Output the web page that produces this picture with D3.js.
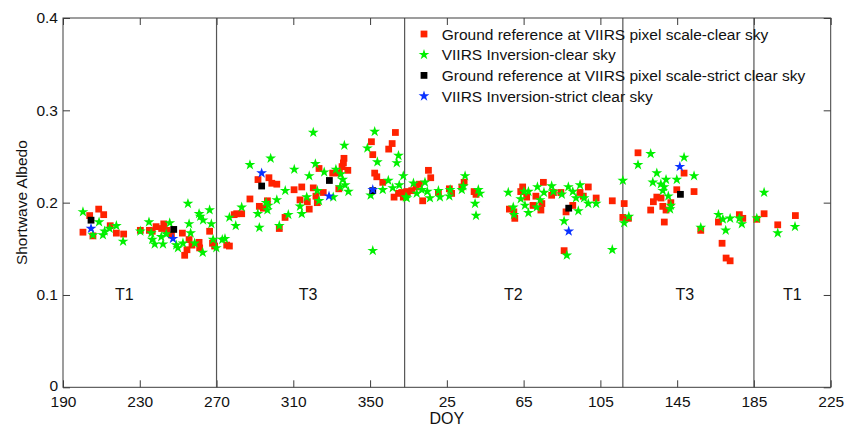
<!DOCTYPE html>
<html>
<head>
<meta charset="utf-8">
<script src="https://cdn.jsdelivr.net/npm/d3@7"></script>
<style>
  html, body { margin: 0; padding: 0; background: #fff; }
  svg { display: block; font-family: "Liberation Sans", Arial, sans-serif; }
</style>
</head>
<body>
<svg id="chart" width="850" height="430"></svg>
<script>
// Day of year runs on across the new year: values above 365 belong to the next year.
const xTickValues = [190, 230, 270, 310, 350, 390, 430, 470, 510, 550, 590];
const xTickLabels = ["190", "230", "270", "310", "350", "25", "65", "105", "145", "185", "225"];
const yTickValues = [0, 0.1, 0.2, 0.3, 0.4];

// Season boundaries and season names
const boundaries = [270, 368, 481.7, 550];
const seasonLabels = [
  { name: "T1", doy: 222 },
  { name: "T3", doy: 317.7 },
  { name: "T2", doy: 424.6 },
  { name: "T3", doy: 514 },
  { name: "T1", doy: 570 }
];

// [DOY, albedo]: ground reference at VIIRS pixel scale, clear sky
const groundClear = [
  [208.6,0.193],[203.9,0.186],[211.2,0.187],[200.4,0.168],[205.6,0.164],[214.6,0.175],[217.8,0.167],
  [221.6,0.166],[230.3,0.170],[235.0,0.170],[236.5,0.169],[238.5,0.174],[242.5,0.177],[241.4,0.172],
  [244.2,0.170],[246.5,0.165],[252.2,0.167],[255.7,0.160],[257.2,0.154],[253.4,0.143],[260.9,0.157],
  [261.2,0.151],[266.4,0.169],[267.9,0.156],[269.0,0.153],[254.6,0.149],
  [275.3,0.154],[276.7,0.153],[279.2,0.187],[280.5,0.188],[283.1,0.188],[287.4,0.204],[292.3,0.196],
  [294.4,0.194],[296.5,0.202],[291.6,0.225],[297.3,0.227],[298.8,0.221],[301.4,0.220],[302.7,0.172],
  [305.7,0.184],[310.4,0.214],[314.4,0.217],[313.5,0.203],[317.3,0.201],[318.3,0.193],[320.4,0.216],
  [321.8,0.207],[322.5,0.200],[325.6,0.211],[323.4,0.237],[330.5,0.232],[334.0,0.232],[333.7,0.215],
  [336.4,0.248],[336.1,0.243],[335.4,0.239],[338.4,0.235],
  [350.7,0.266],[351.4,0.252],[352.4,0.232],[353.5,0.228],[356.6,0.222],[359.7,0.258],[361.5,0.264],
  [363.2,0.276],[364.8,0.210],[362.5,0.206],[367.3,0.206],[369.1,0.212],
  [366.5,0.211],[369.4,0.211],[371.7,0.213],[374.0,0.217],[375.7,0.220],[377.4,0.202],[380.4,0.235],
  [381.6,0.227],[385.6,0.211],[391.3,0.215],[392.5,0.210],[397.8,0.217],[399.0,0.222],[404.2,0.212],
  [405.2,0.209],
  [422.6,0.193],[424.9,0.190],[425.4,0.183],[428.5,0.212],[429.5,0.217],[431.6,0.206],[434.9,0.197],
  [436.4,0.207],[439.0,0.192],[439.5,0.199],[440.3,0.222],[444.6,0.208],[445.5,0.211],[449.4,0.211],
  [451.1,0.148],[452.1,0.190],[455.6,0.197],[459.4,0.211],[461.1,0.207],[463.7,0.217],[467.8,0.205],
  [476.2,0.202],
  [481.7,0.184],[482.4,0.199],[484.6,0.183],[489.6,0.254],[496.2,0.192],[497.6,0.201],[499.4,0.206],
  [501.6,0.205],[502.5,0.196],[503.3,0.179],[504.2,0.192],[506.7,0.200],[509.8,0.214],[513.6,0.232],
  [518.8,0.212],[522.3,0.170],[531.5,0.179],[533.4,0.156],[535.5,0.140],[537.6,0.137],[542.4,0.187],
  [544.2,0.183],[551.5,0.182],[555.3,0.188],[562.4,0.176],[571.6,0.186]
];

// [DOY, albedo]: VIIRS inversion, clear sky
const viirsClear = [
  [200.4,0.190],[208.8,0.179],[205.6,0.165],[210.8,0.165],[211.7,0.169],[214.3,0.172],[217.8,0.175],
  [221.3,0.158],[230.3,0.169],[234.8,0.179],[236.0,0.167],[236.5,0.160],[237.8,0.155],[241.2,0.163],
  [242.1,0.155],[245.6,0.178],[243.8,0.166],[249.0,0.154],[249.9,0.151],[252.5,0.156],[255.1,0.199],
  [255.7,0.177],[256.5,0.167],[258.6,0.156],[260.9,0.188],[261.5,0.185],[263.0,0.181],[266.4,0.192],
  [267.3,0.177],[268.2,0.160],[269.9,0.151],[262.8,0.146],[273.0,0.160],
  [274.4,0.161],[276.7,0.184],[280.0,0.175],[283.1,0.195],[287.4,0.241],[291.5,0.188],[292.3,0.173],
  [295.8,0.200],[297.0,0.197],[296.5,0.192],[298.2,0.248],[301.4,0.203],[302.7,0.175],[305.8,0.213],
  [307.4,0.187],[310.5,0.236],[313.5,0.196],[314.4,0.188],[317.0,0.206],[318.3,0.229],[320.4,0.276],
  [321.5,0.242],[322.5,0.213],[323.4,0.202],[326.1,0.233],[330.8,0.206],[332.2,0.236],[334.4,0.217],
  [334.7,0.231],[335.7,0.225],[336.6,0.262],[337.0,0.219],[338.7,0.212],
  [348.6,0.259],[350.3,0.208],[351.4,0.148],[352.4,0.277],[353.8,0.244],[356.6,0.214],[359.5,0.224],
  [361.8,0.216],[363.9,0.243],[364.8,0.251],[365.2,0.219],[367.3,0.229],[368.7,0.206],
  [369.1,0.205],[372.6,0.221],[374.3,0.210],[376.9,0.214],[378.6,0.222],[379.8,0.212],[381.2,0.205],
  [385.6,0.213],[386.4,0.206],[391.3,0.207],[391.7,0.214],[397.8,0.214],[398.6,0.218],[399.5,0.229],
  [404.7,0.199],[405.2,0.186],[406.4,0.214],[407.3,0.210],
  [422.0,0.211],[424.6,0.195],[425.0,0.187],[428.5,0.204],[430.2,0.212],[430.7,0.197],[432.5,0.212],
  [432.5,0.189],[436.8,0.195],[437.2,0.217],[438.6,0.203],[440.6,0.211],[444.6,0.218],[445.5,0.212],
  [449.9,0.209],[451.1,0.180],[452.5,0.143],[453.3,0.217],[455.6,0.212],[457.3,0.205],[458.5,0.191],
  [459.4,0.219],[461.5,0.205],[463.7,0.199],[467.8,0.199],[476.2,0.149],
  [481.7,0.224],[482.4,0.178],[484.8,0.185],[489.6,0.241],[496.2,0.253],[497.3,0.222],[499.4,0.232],
  [501.5,0.220],[502.5,0.213],[503.2,0.217],[504.2,0.225],[505.4,0.207],[506.3,0.193],[506.7,0.197],
  [509.8,0.225],[513.6,0.249],[518.8,0.229],[522.3,0.173],[531.5,0.187],[533.8,0.182],[535.3,0.170],
  [537.6,0.183],[542.4,0.183],[543.7,0.177],[551.5,0.183],[555.3,0.211],[562.4,0.167],[571.4,0.174]
];

// [DOY, albedo]: ground reference, strict clear sky
const groundStrict = [
  [204.6,0.181],[247.7,0.171],[293.5,0.218],[328.8,0.224],[351.4,0.213],[453.5,0.194],[511.7,0.209]
];

// [DOY, albedo]: VIIRS inversion, strict clear sky
const viirsStrict = [
  [204.6,0.172],[247.3,0.161],[293.5,0.232],[328.6,0.207],[351.4,0.214],[453.5,0.169],[511.4,0.239]
];

const legendLabels = [
  "Ground reference at VIIRS pixel scale-clear sky",
  "VIIRS Inversion-clear sky",
  "Ground reference at VIIRS pixel scale-strict clear sky",
  "VIIRS Inversion-strict clear sky"
];

const W = 850, H = 430;
const margin = { left: 63, top: 18, right: 19.3, bottom: 42.7 };
const pw = W - margin.left - margin.right;
const ph = H - margin.top - margin.bottom;

const svg = d3.select("#chart");
const g = svg.append("g").attr("transform", `translate(${margin.left},${margin.top})`);

const x = d3.scaleLinear().domain([190, 590]).range([0, pw]);
const y = d3.scaleLinear().domain([0, 0.4]).range([ph, 0]);

const frameColor = "#3c3c3c";
const tickLen = 7;
const fontSize = 15.5;

// Axes: ticks point inward on all four sides
const xLabel = d => xTickLabels[xTickValues.indexOf(d)];
const bottomAxis = d3.axisBottom(x).tickValues(xTickValues).tickFormat(xLabel)
  .tickSizeInner(-tickLen).tickSizeOuter(0).tickPadding(9);
const topAxis = d3.axisTop(x).tickValues(xTickValues).tickFormat("")
  .tickSizeInner(-tickLen).tickSizeOuter(0);
const leftAxis = d3.axisLeft(y).tickValues(yTickValues).tickFormat(d => d === 0 ? "0" : d3.format(".1f")(d))
  .tickSizeInner(-tickLen).tickSizeOuter(0).tickPadding(5);
const rightAxis = d3.axisRight(y).tickValues(yTickValues).tickFormat("")
  .tickSizeInner(-tickLen).tickSizeOuter(0);

function styleAxis(sel) {
  sel.select(".domain").remove();
  sel.selectAll(".tick line").attr("stroke", frameColor).attr("stroke-width", 1);
  sel.selectAll(".tick text").attr("fill", "#111").style("font-size", fontSize + "px")
    .style("font-family", "'Liberation Sans', Arial, sans-serif");
}

g.append("g").attr("transform", `translate(0,${ph})`).call(bottomAxis).call(styleAxis);
g.append("g").call(topAxis).call(styleAxis);
const leftG = g.append("g").call(leftAxis).call(styleAxis);
g.append("g").attr("transform", `translate(${pw},0)`).call(rightAxis).call(styleAxis);

// The zero label sits a touch higher so it clears the first DOY label
leftG.selectAll("g.tick").filter(d => d === 0).select("text").attr("dy", "0.2em");

// Season boundary lines
g.selectAll("line.boundary").data(boundaries).join("line")
  .attr("class", "boundary")
  .attr("x1", d => x(d)).attr("x2", d => x(d))
  .attr("y1", 0).attr("y2", ph)
  .attr("stroke", "#555").attr("stroke-width", 1.2);

// Season names
g.selectAll("text.season").data(seasonLabels).join("text")
  .attr("class", "season")
  .attr("x", d => x(d.doy)).attr("y", y(0.1))
  .attr("text-anchor", "middle").attr("dominant-baseline", "central")
  .style("font-size", "16px").attr("fill", "#111")
  .text(d => d.name);

// Marker shapes
const squareSym = d3.symbol().type(d3.symbolSquare).size(46);
const starSym = d3.symbol().type(d3.symbolStar).size(36);

const series = [
  { data: groundClear, sym: squareSym, color: "#ff2200" },
  { data: viirsClear, sym: starSym, color: "#00f000" },
  { data: groundStrict, sym: squareSym, color: "#000000" },
  { data: viirsStrict, sym: starSym, color: "#0a32ff" }
];

series.forEach(s => {
  g.append("g").selectAll("path").data(s.data).join("path")
    .attr("d", s.sym())
    .attr("transform", d => `translate(${x(d[0])},${y(d[1])})`)
    .attr("fill", s.color);
});

// Frame
g.append("rect").attr("x", 0).attr("y", 0).attr("width", pw).attr("height", ph)
  .attr("fill", "none").attr("stroke", frameColor).attr("stroke-width", 1);

// Axis titles
svg.append("text")
  .attr("x", margin.left + x(390)).attr("y", 424)
  .attr("text-anchor", "middle").style("font-size", "16px").attr("fill", "#111")
  .text("DOY");
svg.append("text")
  .attr("transform", `translate(21,${margin.top + ph / 2}) rotate(-90)`)
  .attr("text-anchor", "middle").attr("dominant-baseline", "central")
  .style("font-size", "15.5px").attr("fill", "#111")
  .text("Shortwave Albedo");

// Legend
const legend = svg.append("g").attr("transform", "translate(424,34)");
legendLabels.forEach((label, i) => {
  const row = legend.append("g").attr("transform", `translate(0,${i * 20.7})`);
  row.append("path").attr("d", series[i].sym()).attr("fill", series[i].color);
  row.append("text").attr("x", 17.7).attr("y", 0)
    .attr("dominant-baseline", "central")
    .style("font-size", "15.5px").attr("fill", "#111")
    .text(label);
});
</script>
</body>
</html>
